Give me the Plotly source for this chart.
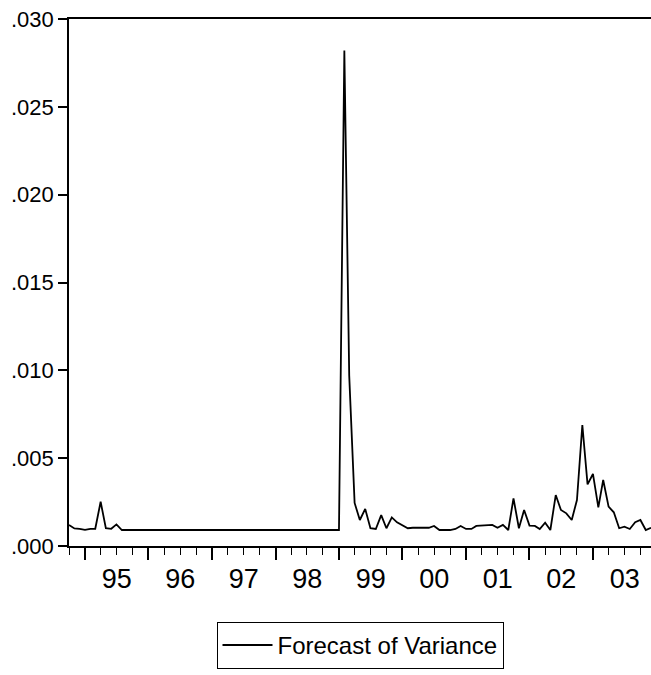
import pandas as pd
import plotly.graph_objects as go

# Monthly forecast of the conditional variance, Oct 1994 - Dec 2003
start_month = "1994-10-01"
variance_1994 = [0.00120, 0.00100, 0.00097]
variance_1995 = [0.00092, 0.00097, 0.00098, 0.00252, 0.00101, 0.00098,
                 0.00123, 0.00091, 0.00091, 0.00091, 0.00091, 0.00091]
variance_1996 = [0.00091, 0.00091, 0.00091, 0.00091, 0.00091, 0.00091,
                 0.00091, 0.00091, 0.00091, 0.00091, 0.00091, 0.00091]
variance_1997 = [0.00091, 0.00091, 0.00091, 0.00091, 0.00091, 0.00091,
                 0.00091, 0.00091, 0.00091, 0.00091, 0.00091, 0.00091]
variance_1998 = [0.00091, 0.00091, 0.00091, 0.00091, 0.00091, 0.00091,
                 0.00091, 0.00091, 0.00091, 0.00091, 0.00091, 0.00091]
variance_1999 = [0.00091, 0.02820, 0.00970, 0.00245, 0.00148, 0.00211,
                 0.00101, 0.00097, 0.00176, 0.00101, 0.00163, 0.00135]
variance_2000 = [0.00120, 0.00101, 0.00104, 0.00104, 0.00104, 0.00104,
                 0.00114, 0.00091, 0.00091, 0.00091, 0.00097, 0.00114]
variance_2001 = [0.00097, 0.00097, 0.00114, 0.00116, 0.00120, 0.00120,
                 0.00104, 0.00120, 0.00091, 0.00271, 0.00101, 0.00205]
variance_2002 = [0.00116, 0.00114, 0.00097, 0.00133, 0.00091, 0.00290,
                 0.00205, 0.00186, 0.00148, 0.00262, 0.00689, 0.00351]
variance_2003 = [0.00410, 0.00220, 0.00376, 0.00224, 0.00192, 0.00101,
                 0.00110, 0.00097, 0.00135, 0.00148, 0.00091, 0.00104]

variance = (variance_1994 + variance_1995 + variance_1996 + variance_1997
            + variance_1998 + variance_1999 + variance_2000 + variance_2001
            + variance_2002 + variance_2003)
months = pd.date_range(start_month, periods=len(variance), freq="MS")

y_tickvals = [0.000, 0.005, 0.010, 0.015, 0.020, 0.025, 0.030]
y_ticktext = [".000", ".005", ".010", ".015", ".020", ".025", ".030"]
series_name = "Forecast of Variance"

FONT = "Liberation Sans, Arial, sans-serif"

fig = go.Figure()
fig.add_trace(go.Scatter(
    x=months, y=variance, mode="lines", name=series_name,
    line=dict(color="black", width=1.8),
))

fig.update_layout(
    width=651, height=675,
    margin=dict(l=69, r=0, t=19, b=129),
    paper_bgcolor="white", plot_bgcolor="white",
    font=dict(family=FONT, color="black"),
    showlegend=True,
    legend=dict(
        orientation="h", x=0.5, xanchor="center", y=-0.144, yanchor="top",
        bordercolor="black", borderwidth=1, bgcolor="white",
        itemwidth=50,
        font=dict(size=24, family=FONT, color="black"),
    ),
)

fig.update_xaxes(
    range=[months[0], months[-1]],
    showgrid=False, zeroline=False,
    showline=True, linecolor="black", linewidth=1.6, mirror=True,
    ticks="outside", ticklen=12, tickwidth=1.5, tickcolor="black",
    dtick="M12", tick0="1995-01-01",
    tickformat="%y", ticklabelmode="period", ticklabelstandoff=-4,
    tickfont=dict(size=27, family=FONT, color="black"),
    minor=dict(ticks="outside", ticklen=7, tickwidth=1.2, tickcolor="black",
               dtick="M3", tick0="1995-01-01", showgrid=False),
)

fig.update_yaxes(
    range=[0, 0.030],
    showgrid=False, zeroline=False,
    showline=True, linecolor="black", linewidth=1.6, mirror=False,
    ticks="outside", ticklen=9, tickwidth=1.5, tickcolor="black",
    tickmode="array", tickvals=y_tickvals, ticktext=y_ticktext,
    tickfont=dict(size=22, family=FONT, color="black"),
)

fig.write_html("out.html")
